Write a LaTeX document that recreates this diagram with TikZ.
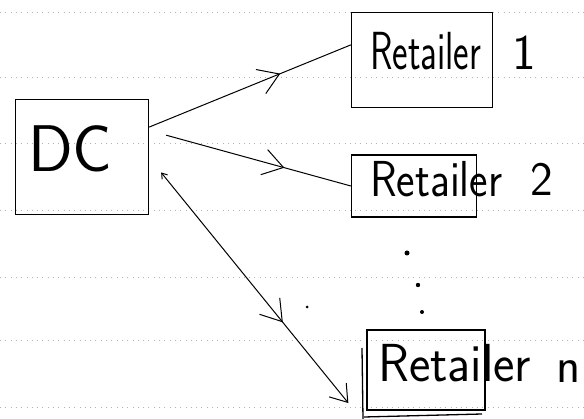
\documentclass[tikz,border=0pt]{standalone}
\usepackage{fontspec}
\usepackage{graphicx}
\usetikzlibrary{arrows.meta,decorations.markings}
\begin{document}
\begin{tikzpicture}[x=1pt, y=-1pt,
	box/.style={draw, line width=1.3pt, inner sep=0pt},
	hand/.style={font=\sffamily\fontsize{#1}{#1}\selectfont, inner sep=0pt},
	flow/.style={line width=1pt},
	midtip/.style={postaction={decorate}, decoration={markings,
		mark=at position #1 with {\arrow{Straight Barb[length=20pt,width=26pt,line width=1pt]}}}},
	rule/.style={gray!60, line width=.6pt, dash pattern=on .8pt off 4.5pt}]
	\useasboundingbox (0,0) rectangle (584,419);
	
	% ruled paper
	\foreach \y in {12,77,143,210,277,340,407}
		\draw[rule] (0,\y) -- (584,\y);
	
	\node[box, minimum width=133pt, minimum height=115pt] (dc) at (82,157) {};
	\node[box, minimum width=141pt, minimum height=95pt] (ret1) at (422,60) {};
	\node[box, minimum width=125pt, minimum height=62pt] (ret2) at (414,186) {};
	\node[box, minimum width=118pt, minimum height=80pt] (retn) at (426,370) {};
	
	\node[hand=66, anchor=base west] (dclabel) at (28,172) {DC};
	\node[hand=37, anchor=base west] (ret1label) at (370,70) {\scalebox{1}[1.45]{Retailer}};
	\node[hand=50, anchor=base west] (ret1num) at (512,70) {1};
	\node[hand=44, anchor=base west] (ret2label) at (370,197) {\scalebox{1}[1.15]{Retailer}};
	\node[hand=48, anchor=base west] (ret2num) at (530,196) {2};
	\node[hand=51, anchor=base west] (retnlabel) at (378,382) {\scalebox{1}[1.05]{Retailer}};
	\node[hand=50, anchor=base west] (retnnum) at (556,383) {n};
	
	\draw[flow, midtip=.65] (dc.24) -- (ret1.168);
	\draw[flow, midtip=.64] ([xshift=17pt]dc.18) -- (ret2.west);
	\draw[flow, midtip=.65, {Straight Barb[length=5pt,width=7pt]}-{Straight Barb[length=16pt,width=22pt]}]
		([xshift=12pt]dc.-13) -- ([xshift=-18pt]retn.-151);
	
	% second stroke of the last box and the cut-off box below it
	\draw[line width=1.3pt] (362,348) -- (363,419);
	\draw[line width=1.3pt] (364,417) -- (482,414);
	
	\fill (407,253) circle (2.5pt);
	\fill (418,285) circle (2.2pt);
	\fill (422,312) circle (2pt);
	\fill (307,307) circle (1.5pt);
\end{tikzpicture}
\end{document}
